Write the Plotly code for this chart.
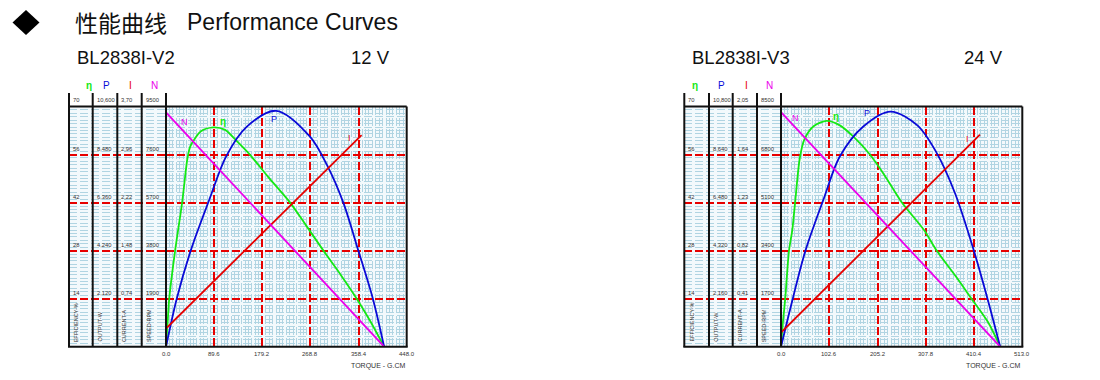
import plotly.graph_objects as go

W, H = 1100, 380

# ---------------- data : BL2838I-V2 (12 V) ----------------
v2_model, v2_volt = "BL2838I-V2", "12 V"
v2_torque_ticks = [0, 89.6, 179.2, 268.8, 358.4, 448.0]
v2_torque_labels = ["0.0", "89.6", "179.2", "268.8", "358.4", "448.0"]
v2_eff_labels = ["14", "28", "42", "56", "70"]
v2_out_labels = ["2,120", "4,240", "6,360", "8,480", "10,600"]
v2_cur_labels = ["0,74", "1,48", "2,22", "2,96", "3,70"]
v2_spd_labels = ["1900", "3800", "5700", "7600", "9500"]
v2_out_max, v2_cur_max, v2_spd_max = 10.6, 3.70, 9500

v2_n_torque = [0, 406]
v2_n_speed = [9270, 0]
v2_i_torque = [0, 364]
v2_i_current = [0.28, 3.26]
v2_p_torque = [0, 20, 46, 80, 112, 150, 205, 268, 300, 330, 358, 385, 406]
v2_p_output = [0, 2.12, 4.24, 6.45, 8.4, 9.7, 10.41, 9.27, 8.0, 6.36, 4.24, 2.12, 0]
v2_e_torque = [0, 3, 6, 17, 30, 40, 45, 51, 65, 88, 110, 130, 156, 190, 231, 260, 293, 325, 355, 380, 406]
v2_e_eff = [0, 7, 14, 28, 42, 55, 58.3, 60, 62.8, 63.9, 63.2, 60.2, 56, 49.5, 42, 35.5, 28, 21, 14, 7.5, 0]

# ---------------- data : BL2838I-V3 (24 V) ----------------
v3_model, v3_volt = "BL2838I-V3", "24 V"
v3_torque_ticks = [0, 102.6, 205.2, 307.8, 410.4, 513.0]
v3_torque_labels = ["0.0", "102.6", "205.2", "307.8", "410.4", "513.0"]
v3_eff_labels = ["14", "28", "42", "56", "70"]
v3_out_labels = ["2,160", "4,320", "6,480", "8,640", "10,800"]
v3_cur_labels = ["0,41", "0,82", "1,23", "1,64", "2,05"]
v3_spd_labels = ["1700", "3400", "5100", "6800", "8500"]
v3_out_max, v3_cur_max, v3_spd_max = 10.8, 2.05, 8500

v3_n_torque = [0, 466]
v3_n_speed = [8300, 0]
v3_i_torque = [0, 423]
v3_i_current = [0.12, 1.81]
v3_p_torque = [0, 25, 52, 90, 125, 175, 233, 290, 330, 370, 410, 439, 466]
v3_p_output = [0, 2.16, 4.32, 6.6, 8.55, 9.9, 10.57, 9.95, 8.75, 6.9, 4.32, 2.16, 0]
v3_e_torque = [0, 4, 9, 17, 24, 30, 40, 50, 70, 97, 125, 154, 189, 220, 257, 304, 331, 370, 405, 440, 466]
v3_e_eff = [0, 7, 14, 28, 34, 42, 55, 60.5, 64.3, 65.8, 64.5, 61.2, 56, 50, 42, 34, 28, 20.8, 14, 7.2, 0]

eff_max = 70
col_names = ["EFFICIENCY-%", "OUTPUT-W", "CURRENT-A", "SPEED-RPM"]
col_symbols = ["η", "P", "I", "N"]

# ---------------- style ----------------
GREEN, BLUE, RED, MAGENTA = "rgb(20,232,20)", "rgb(10,10,215)", "rgb(230,0,0)", "rgb(235,0,235)"
GRIDRED = "rgb(230,0,0)"
MINOR = "rgb(176,212,226)"
BG = "rgb(243,249,252)"
BLACK = "#111111"
NARROW = "Liberation Sans Narrow, Liberation Sans, Arial, sans-serif"
SANS = "Liberation Sans, Arial, sans-serif"
CJK = "Noto Sans CJK SC, sans-serif"
SMALL = "#333333"


def px(x):
    return x / W


def py(y):
    return 1 - y / H


Y_TOP, Y_BOT, Y_HEAD = 106.5, 346.7, 93

charts = [
    dict(model=v2_model, volt=v2_volt, ticks=v2_torque_ticks, tlabels=v2_torque_labels,
         labels=[v2_eff_labels, v2_out_labels, v2_cur_labels, v2_spd_labels],
         maxes=[eff_max, v2_out_max, v2_cur_max, v2_spd_max],
         n=(v2_n_torque, v2_n_speed), i=(v2_i_torque, v2_i_current),
         p=(v2_p_torque, v2_p_output), e=(v2_e_torque, v2_e_eff),
         cols=[69, 92.7, 117.3, 141.7, 166], right=406.7,
         sym_x=[89.3, 106.7, 130.7, 154.3],
         model_x=75, volt_xr=392,
         curve_lbl=[("N", MAGENTA, 34, 65.4), ("η", GREEN, 105.5, 65.6), ("P", BLUE, 201.5, 66.3), ("I", RED, 342.4, 60.7)],
         ax=dict(x="x", y="y", ys=["y", "y2", "y3", "y4"], col="x3")),
    dict(model=v3_model, volt=v3_volt, ticks=v3_torque_ticks, tlabels=v3_torque_labels,
         labels=[v3_eff_labels, v3_out_labels, v3_cur_labels, v3_spd_labels],
         maxes=[eff_max, v3_out_max, v3_cur_max, v3_spd_max],
         n=(v3_n_torque, v3_n_speed), i=(v3_i_torque, v3_i_current),
         p=(v3_p_torque, v3_p_output), e=(v3_e_torque, v3_e_eff),
         cols=[684.3, 709, 732.7, 757, 781], right=1022.3,
         sym_x=[695, 721.7, 746, 769.3],
         model_x=690, volt_xr=1005,
         curve_lbl=[("N", MAGENTA, 31.3, 66.6), ("η", GREEN, 116.9, 67.2), ("P", BLUE, 183.5, 68.0), ("I", RED, 396, 60.4)],
         ax=dict(x="x2", y="y5", ys=["y5", "y6", "y7", "y8"], col="x4")),
]

fig = go.Figure()
layout = dict(width=W, height=H, margin=dict(l=0, r=0, t=0, b=0, pad=0),
              paper_bgcolor="white", plot_bgcolor=BG, showlegend=False,
              font=dict(family=SANS, color="#222"))
shapes, annotations = [], []


def axkey(name):
    return name.replace("x", "xaxis").replace("y", "yaxis")


for c in charts:
    a = c["ax"]
    xl, xr = c["cols"][-1], c["right"]
    span = c["ticks"][-1]
    step = c["ticks"][1]
    layout[axkey(a["x"])] = dict(
        domain=[px(xl), px(xr)], range=[0, span], anchor=a["y"],
        tickmode="linear", tick0=0, dtick=step, showticklabels=False, ticks="",
        showgrid=True, gridcolor=GRIDRED, gridwidth=2, griddash="8px,3px",
        minor=dict(tick0=0, dtick=step / 14, showgrid=True, gridcolor=MINOR, gridwidth=1),
        zeroline=False, showline=False, fixedrange=True)
    eff_ticks = [float(v) for v in c["labels"][0]]
    layout[axkey(a["ys"][0])] = dict(
        domain=[py(Y_BOT), py(Y_TOP)], range=[0, eff_max], anchor=a["x"],
        tickmode="linear", tick0=0, dtick=eff_ticks[0], showticklabels=False, ticks="",
        showgrid=True, gridcolor=GRIDRED, gridwidth=2, griddash="8px,3px",
        minor=dict(tick0=0, dtick=1, showgrid=True, gridcolor=MINOR, gridwidth=1),
        zeroline=False, showline=False, fixedrange=True)
    for yk, mx in zip(a["ys"][1:], c["maxes"][1:]):
        layout[axkey(yk)] = dict(range=[0, mx], overlaying=a["ys"][0], anchor=a["x"],
                                 visible=False, showgrid=False, zeroline=False, fixedrange=True)
    layout[axkey(a["col"])] = dict(domain=[px(c["cols"][0]), px(xl)], range=[0, 1],
                                   anchor=a["ys"][0], visible=False, fixedrange=True)
    fig.add_trace(go.Scatter(x=[0.5], y=[0], xaxis=a["col"], yaxis=a["ys"][0], mode="markers",
                             marker=dict(size=1, opacity=0), hoverinfo="skip"))

    lw = 1.8
    fig.add_trace(go.Scatter(x=c["n"][0], y=c["n"][1], xaxis=a["x"], yaxis=a["ys"][3], mode="lines",
                             line=dict(color=MAGENTA, width=lw)))
    fig.add_trace(go.Scatter(x=c["i"][0], y=c["i"][1], xaxis=a["x"], yaxis=a["ys"][2], mode="lines",
                             line=dict(color=RED, width=lw)))
    fig.add_trace(go.Scatter(x=c["e"][0], y=c["e"][1], xaxis=a["x"], yaxis=a["ys"][0], mode="lines",
                             line=dict(color=GREEN, width=lw, shape="spline", smoothing=0.8)))
    fig.add_trace(go.Scatter(x=c["p"][0], y=c["p"][1], xaxis=a["x"], yaxis=a["ys"][1], mode="lines",
                             line=dict(color=BLUE, width=lw, shape="spline", smoothing=0.9)))

    def line(x0, y0, x1, y1, w=2):
        shapes.append(dict(type="line", xref="paper", yref="paper", x0=px(x0), y0=py(y0),
                           x1=px(x1), y1=py(y1), line=dict(color=BLACK, width=w), layer="above"))
    for xc in c["cols"]:
        line(xc, Y_HEAD, xc, Y_BOT)
    line(xr, Y_TOP, xr, Y_BOT)
    line(c["cols"][0], Y_TOP, xr, Y_TOP)
    line(c["cols"][0] - 1, Y_BOT, xr + 1, Y_BOT)

    # x tick labels
    for tv, tl in zip(c["ticks"], c["tlabels"]):
        annotations.append(dict(text=tl, x=tv, y=py(354), xref=a["x"], yref="paper", showarrow=False,
                                xanchor="center", yanchor="middle",
                                font=dict(size=6, family=NARROW, color=SMALL)))

    sym_colors = [GREEN, BLUE, RED, MAGENTA]
    for s, col, sx in zip(col_symbols, sym_colors, c["sym_x"]):
        annotations.append(dict(text=("<b>%s</b>" % s) if s == "η" else s, x=px(sx), y=py(85),
                                xref="paper", yref="paper", showarrow=False,
                                font=dict(size=10, color=col, family=SANS),
                                xanchor="center", yanchor="middle"))
    for k in range(4):
        for v, lab in zip(eff_ticks, c["labels"][k]):
            annotations.append(dict(text=lab, x=px(c["cols"][k] + 2), y=v, xref="paper", yref=a["ys"][0],
                                    showarrow=False, xanchor="left", yanchor="middle", yshift=6,
                                    font=dict(size=5.8, family=NARROW, color=SMALL)))
        annotations.append(dict(text=col_names[k], x=px(c["cols"][k] + 6.8), y=py(344),
                                xref="paper", yref="paper", showarrow=False, textangle=-90,
                                xanchor="center", yanchor="bottom",
                                font=dict(size=5.5, family=NARROW, color=SMALL)))
    for t, col, tx, ty in c["curve_lbl"]:
        annotations.append(dict(text=("<b>%s</b>" % t) if t == "η" else t, x=tx, y=ty,
                                xref=a["x"], yref=a["ys"][0], showarrow=False,
                                font=dict(size=10 if t == "η" else 9, color=col, family=SANS)))
    annotations.append(dict(text="TORQUE - G.CM", x=px(xr), y=py(366), xref="paper", yref="paper",
                            showarrow=False, xanchor="right", yanchor="middle",
                            font=dict(size=7, family=NARROW, color=SMALL)))
    annotations.append(dict(text=c["model"], x=px(c["model_x"]), y=py(57.3), xref="paper", yref="paper",
                            showarrow=False, xanchor="left", yanchor="middle",
                            font=dict(size=18.5, family=SANS, color="#111")))
    annotations.append(dict(text=c["volt"], x=px(c["volt_xr"]), y=py(57.3), xref="paper", yref="paper",
                            showarrow=False, xanchor="right", yanchor="middle",
                            font=dict(size=18.5, family=SANS, color="#111")))

cx, cy, hw, hh = 26, 22.5, 13.5, 12.5
shapes.append(dict(type="path", xref="paper", yref="paper",
                   path="M %f %f L %f %f L %f %f L %f %f Z" % (px(cx - hw), py(cy), px(cx), py(cy - hh),
                                                            px(cx + hw), py(cy), px(cx), py(cy + hh)),
                   fillcolor="black", line=dict(width=0), layer="above"))
annotations.append(dict(text="性能曲线", x=px(73), y=py(22), xref="paper", yref="paper", showarrow=False,
                        xanchor="left", yanchor="middle", font=dict(size=23, family=CJK, color="#111")))
annotations.append(dict(text="Performance Curves", x=px(185), y=py(22), xref="paper", yref="paper",
                        showarrow=False, xanchor="left", yanchor="middle",
                        font=dict(size=23, family=SANS, color="#111")))

layout["shapes"] = shapes
layout["annotations"] = annotations
fig.update_layout(**layout)
fig.write_html("out.html", config={"displayModeBar": False},
               post_script="document.body.style.margin='0';document.body.style.overflow='hidden';")
